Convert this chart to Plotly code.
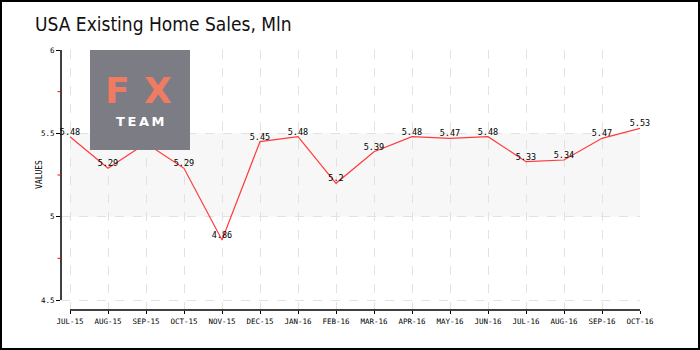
import plotly.graph_objects as go

months = ["JUL-15","AUG-15","SEP-15","OCT-15","NOV-15","DEC-15","JAN-16","FEB-16",
          "MAR-16","APR-16","MAY-16","JUN-16","JUL-16","AUG-16","SEP-16","OCT-16"]
values = [5.48,5.29,5.44,5.29,4.86,5.45,5.48,5.2,5.39,5.48,5.47,5.48,5.33,5.34,5.47,5.53]
y_ticks = [4.5, 5, 5.5, 6]
y_tick_labels = ["4.5", "5", "5.5", "6"]
y_minor = [4.75, 5.25, 5.75]
band = [5.0, 5.5]

W, H = 700, 350
L, R, T, B = 61, 60, 50, 40
pw, ph = W - L - R, H - T - B
def px(x): return (x - L) / pw
def py(y): return (H - B - y) / ph

MONO = "DejaVu Sans Mono, monospace"
xs = list(range(len(months)))
fig = go.Figure()
fig.add_trace(go.Scatter(
    x=xs, y=values, mode="lines+text",
    text=[f"{v:g}" for v in values], textposition="top center",
    textfont=dict(family=MONO, size=8.5, color="#000"),
    line=dict(color="#ff3b3b", width=1.2), hoverinfo="skip", cliponaxis=False))

shapes = [
    dict(type="rect", xref="x", yref="y", x0=0, x1=15, y0=band[0], y1=band[1],
         fillcolor="#f7f7f7", line_width=0, layer="below"),
    dict(type="line", xref="paper", yref="y", x0=0, x1=0, y0=4.5, y1=6,
         line=dict(color="#000", width=1.5)),
    dict(type="line", xref="x", yref="paper", x0=0, x1=15, y0=0, y1=0,
         line=dict(color="#000", width=1.5)),
    dict(type="rect", xref="paper", yref="paper", x0=px(90), x1=px(190), y0=py(150), y1=py(50),
         fillcolor="#7c7d84", line_width=0, layer="above"),
    dict(type="rect", xref="paper", yref="paper", x0=px(1), x1=px(699), y0=py(349), y1=py(1),
         line=dict(color="#000", width=2)),
]
for v in y_minor:
    shapes.append(dict(type="line", xref="paper", yref="y", x0=px(57.5), x1=px(61), y0=v, y1=v,
                       line=dict(color="#ff0000", width=1)))

annotations = [
    dict(text="USA Existing Home Sales, Mln", xref="paper", yref="paper", x=px(33), y=py(24),
         xanchor="left", yanchor="middle", showarrow=False,
         font=dict(family="DejaVu Sans Condensed, sans-serif", size=19, color="#111")),
    dict(text="<b>F</b>", xref="paper", yref="paper", x=px(117), y=py(90), xanchor="center", yanchor="middle",
         showarrow=False, font=dict(family="DejaVu Sans, sans-serif", size=36, color="#f07a62")),
    dict(text="<b>X</b>", xref="paper", yref="paper", x=px(158), y=py(90), xanchor="center", yanchor="middle",
         showarrow=False, font=dict(family="DejaVu Sans, sans-serif", size=36, color="#f07a62")),
    dict(text="<b>T\u2009E\u2009A\u2009M</b>", xref="paper", yref="paper", x=px(140), y=py(121),
         xanchor="center", yanchor="middle", showarrow=False,
         font=dict(family="DejaVu Sans, sans-serif", size=13, color="#ffffff")),
    dict(text="VALUES", xref="paper", yref="paper", x=px(39), y=py(175), textangle=-90,
         xanchor="center", yanchor="middle", showarrow=False,
         font=dict(family=MONO, size=8, color="#000")),
]

fig.update_layout(
    width=W, height=H, margin=dict(l=L, r=R, t=T, b=B),
    paper_bgcolor="#fff", plot_bgcolor="#fff", showlegend=False,
    shapes=shapes, annotations=annotations,
    xaxis=dict(range=[-9/38, 15], tickmode="array", tickvals=xs, ticktext=months,
               showgrid=True, gridcolor="#e2e2e2", griddash="dash", gridwidth=1,
               zeroline=False, showline=False, ticks="outside", ticklen=3, tickcolor="#000",
               ticklabelstandoff=1,
               tickfont=dict(family=MONO, size=7.5, color="#000")),
    yaxis=dict(range=[4.5 - 10 / (250 / 1.5), 6], tickmode="array", tickvals=y_ticks, ticktext=y_tick_labels,
               showgrid=True, gridcolor="#e2e2e2", griddash="dash", gridwidth=1,
               zeroline=False, showline=False, ticks="outside", ticklen=4, tickcolor="#000",
               tickfont=dict(family=MONO, size=7.5, color="#000")),
)
fig.write_html("out.html")
